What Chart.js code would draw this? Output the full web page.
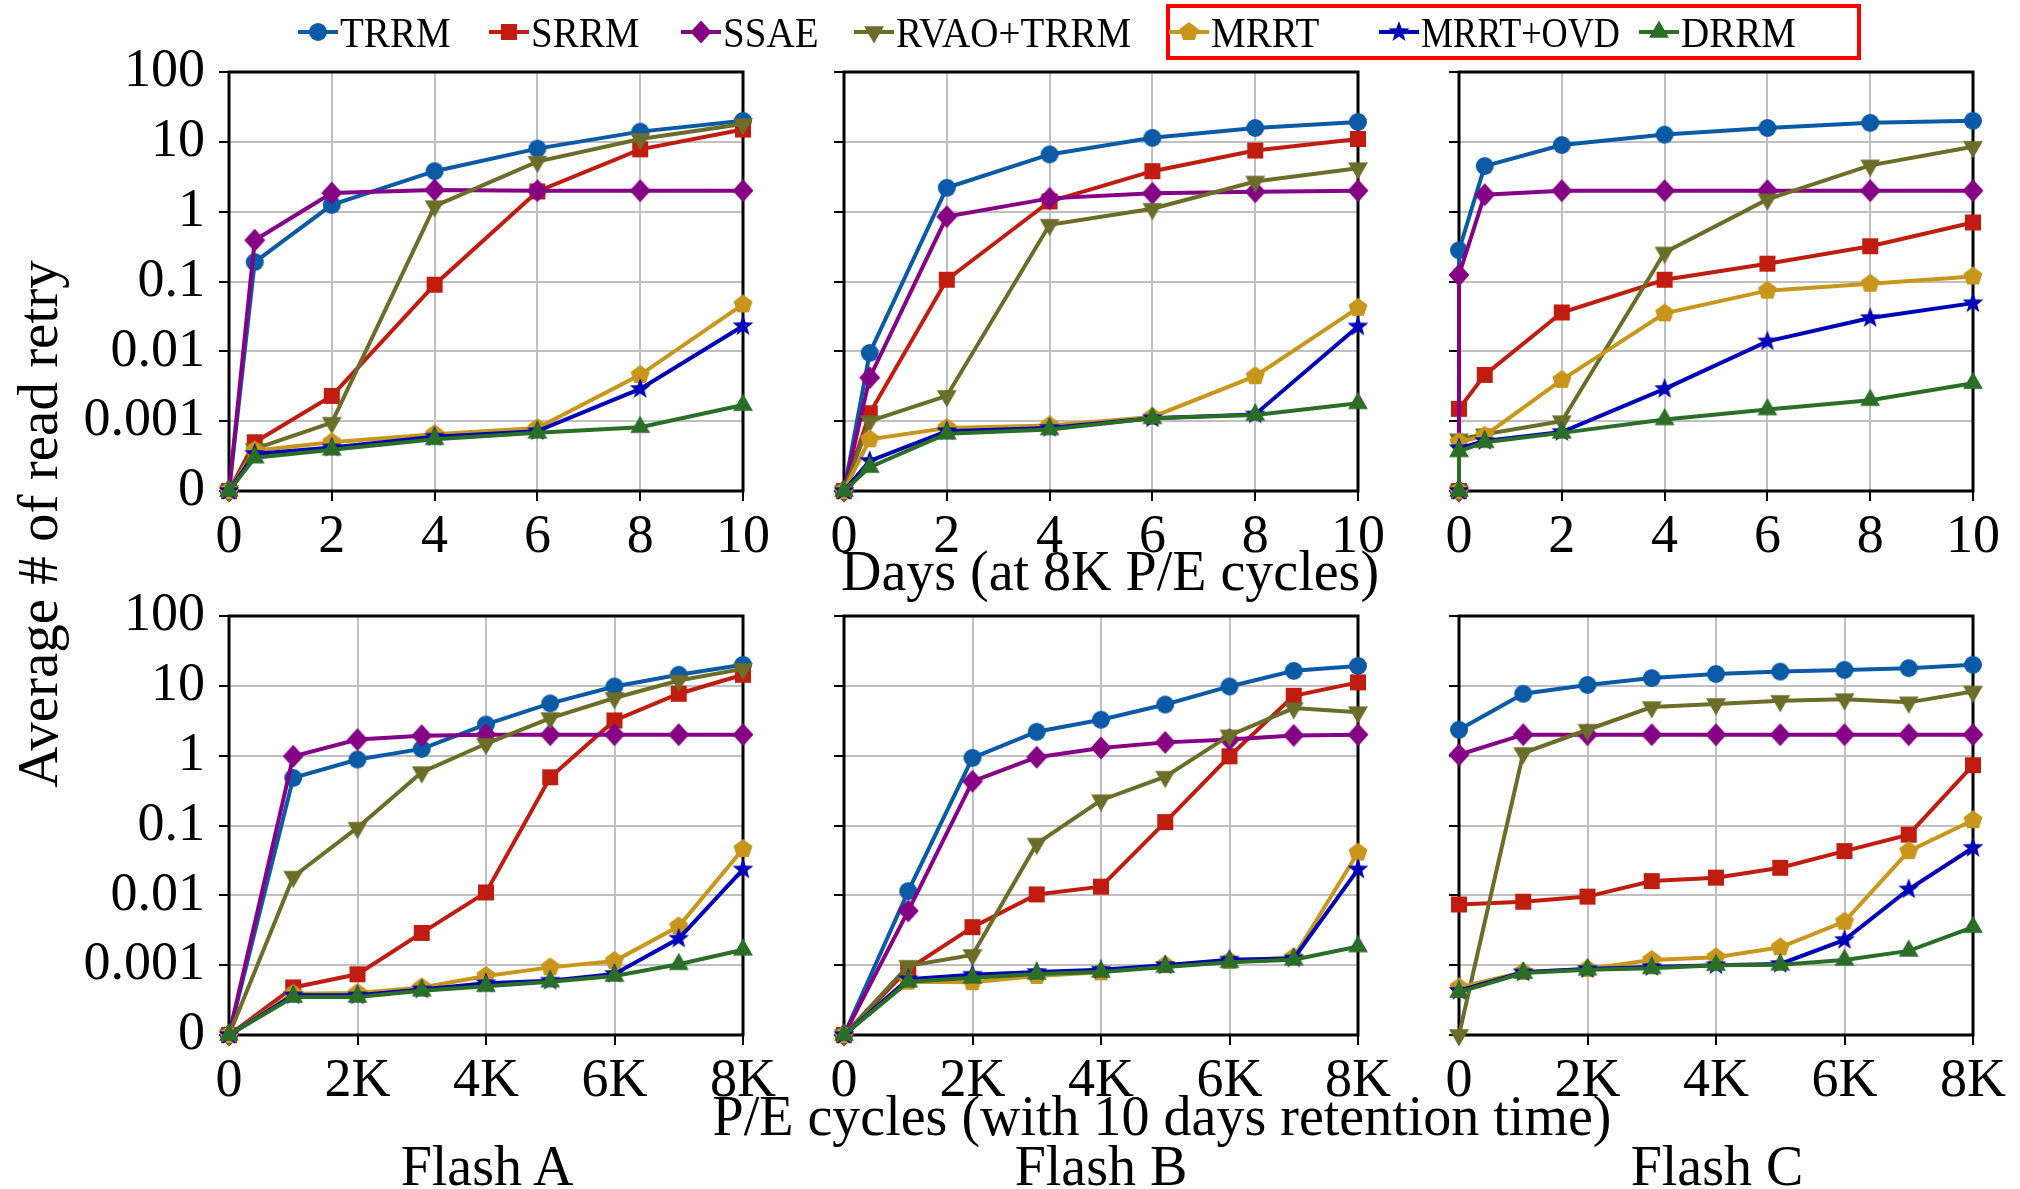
<!DOCTYPE html>
<html>
<head>
<meta charset="utf-8">
<script src="https://cdn.jsdelivr.net/npm/chart.js@4.4.1/dist/chart.umd.min.js"></script>
<style>
  body { margin: 0; background: #fff; }
  #wrap { position: relative; width: 2020px; height: 1189px; overflow: hidden; font-family: 'Liberation Serif', 'Times New Roman', serif; color: #000; }
  canvas.panel { position: absolute; }
  .lbl { position: absolute; white-space: nowrap; transform: translate(-50%, -50%); font-size: 56px; line-height: 1; }
  .leg { position: absolute; white-space: nowrap; font-size: 42px; line-height: 1; transform-origin: 0 50%; }
  .legicon { position: absolute; transform: translate(-50%, -50%); }
  #redbox { position: absolute; left: 1166px; top: 4px; width: 687px; height: 48px; border: 4px solid #ff0000; }
</style>
</head>
<body>
<div id="wrap">
  <div id="redbox"></div>
  <div class="lbl" style="left:1110px;top:571px;">Days (at 8K P/E cycles)</div>
  <div class="lbl" style="left:1162px;top:1116px;">P/E cycles (with 10 days retention time)</div>
  <div class="lbl" style="left:487px;top:1166px;">Flash A</div>
  <div class="lbl" style="left:1101px;top:1166px;">Flash B</div>
  <div class="lbl" style="left:1717px;top:1166px;">Flash C</div>
  <div class="lbl" style="left:37px;top:524px;font-size:57px;transform:translate(-50%,-50%) rotate(-90deg);">Average # of read retry</div>
</div>
<script>
// series, in legend order
const seriesNames = ['TRRM', 'SRRM', 'SSAE', 'RVAO+TRRM', 'MRRT', 'MRRT+OVD', 'DRRM'];
const seriesColors = ['#0a5aa6', '#c01c10', '#850085', '#6b6d28', '#c9961c', '#0000b8', '#2a6e28'];
const seriesShapes = ['circle', 'square', 'diamond', 'triDown', 'pentagon', 'star', 'triUp'];

// x positions
const daysAB = [0, 0.5, 2, 4, 6, 8, 10];
const daysC = [0, 0, 0.5, 2, 4, 6, 8, 10];
const peK = [0, 1, 2, 3, 4, 5, 6, 7, 8];
const dayTicks = [0, 2, 4, 6, 8, 10];
const peTicks = [0, 2, 4, 6, 8];
const yTicks = [0.0001, 0.001, 0.01, 0.1, 1, 10, 100]; // 0.0001 stands for "0"

// Flash A, days
const daysA_TRRM = [0, 0.19, 1.25, 3.8, 8.0, 14, 20];
const daysA_SRRM = [0, 0.0005, 0.0023, 0.09, 1.95, 7.8, 15];
const daysA_SSAE = [0, 0.39, 1.85, 2.05, 2, 2, 2];
const daysA_RVAO = [0, 0.0004, 0.00095, 1.2, 5.2, 11, 18];
const daysA_MRRT = [0, 0.00038, 0.0005, 0.00065, 0.0008, 0.0046, 0.047];
const daysA_OVD = [0, 0.00034, 0.00042, 0.0006, 0.00072, 0.0029, 0.023];
const daysA_DRRM = [0, 0.0003, 0.00039, 0.00055, 0.00068, 0.00082, 0.0017];

// Flash B, days
const daysB_TRRM = [0, 0.0095, 2.2, 6.6, 11.4, 15.8, 19.3];
const daysB_SRRM = [0, 0.0013, 0.106, 1.4, 3.8, 7.5, 11];
const daysB_SSAE = [0, 0.0042, 0.85, 1.55, 1.83, 1.93, 2.0];
const daysB_RVAO = [0, 0.001, 0.0023, 0.65, 1.1, 2.7, 4.2];
const daysB_MRRT = [0, 0.00055, 0.0008, 0.00087, 0.00115, 0.0044, 0.042];
const daysB_OVD = [0, 0.00027, 0.00072, 0.0008, 0.0011, 0.00125, 0.0227];
const daysB_DRRM = [0, 0.00022, 0.00066, 0.00076, 0.0011, 0.00123, 0.0018];

// Flash C, days
const daysC_TRRM = [0, 0.28, 4.5, 9.0, 12.7, 15.8, 18.7, 20];
const daysC_SRRM = [0, 0.0015, 0.0046, 0.036, 0.106, 0.18, 0.32, 0.7];
const daysC_SSAE = [0, 0.124, 1.75, 2, 2, 2, 2, 2];
const daysC_RVAO = [0, 0.00055, 0.00065, 0.001, 0.26, 1.5, 4.6, 8.5];
const daysC_MRRT = [0, 0.0005, 0.00062, 0.0039, 0.035, 0.074, 0.093, 0.118];
const daysC_OVD = [0, 0.00041, 0.00052, 0.0007, 0.0029, 0.0139, 0.03, 0.049];
const daysC_DRRM = [0, 0.00037, 0.0005, 0.00068, 0.00106, 0.00147, 0.002, 0.0035];

// Flash A, P/E cycles
const peA_TRRM = [0, 0.48, 0.88, 1.25, 2.8, 5.6, 9.8, 14.4, 20];
const peA_SRRM = [0, 0.00048, 0.00074, 0.0029, 0.011, 0.49, 3.2, 7.7, 14.4];
const peA_SSAE = [0, 0.98, 1.7, 1.93, 2, 2, 2, 2, 2];
const peA_RVAO = [0, 0.0185, 0.093, 0.58, 1.48, 3.45, 6.7, 11.9, 17.5];
const peA_MRRT = [0, 0.00039, 0.0004, 0.00048, 0.0007, 0.00093, 0.00115, 0.0036, 0.046];
const peA_OVD = [0, 0.00037, 0.00037, 0.00045, 0.00055, 0.0006, 0.00075, 0.0024, 0.0235];
const peA_DRRM = [0, 0.00035, 0.00035, 0.00043, 0.0005, 0.00058, 0.0007, 0.00103, 0.00166];

// Flash B, P/E cycles
const peB_TRRM = [0, 0.0115, 0.93, 2.2, 3.27, 5.4, 9.8, 16.4, 19.3];
const peB_SRRM = [0, 0.00088, 0.0035, 0.0103, 0.0133, 0.112, 0.98, 7.2, 11.2];
const peB_SSAE = [0, 0.006, 0.43, 0.95, 1.29, 1.55, 1.7, 1.95, 2.0];
const peB_RVAO = [0, 0.00098, 0.0014, 0.055, 0.23, 0.5, 1.95, 4.8, 4.2];
const peB_MRRT = [0, 0.00058, 0.00057, 0.0007, 0.00079, 0.001, 0.00115, 0.0013, 0.041];
const peB_OVD = [0, 0.00063, 0.00073, 0.0008, 0.00086, 0.001, 0.0012, 0.00125, 0.0235];
const peB_DRRM = [0, 0.00058, 0.00066, 0.00075, 0.0008, 0.00094, 0.0011, 0.0012, 0.00185];

// Flash C, P/E cycles
const peC_TRRM = [2.35, 7.7, 10.3, 12.9, 14.8, 16, 16.9, 17.9, 20];
const peC_SRRM = [0.0074, 0.0081, 0.0096, 0.016, 0.0179, 0.0248, 0.043, 0.074, 0.73];
const peC_SSAE = [1.03, 2, 2, 2, 2, 2, 2, 2, 2];
const peC_RVAO = [0, 1.09, 2.35, 4.96, 5.5, 6.1, 6.45, 5.8, 8.3];
const peC_MRRT = [0.00048, 0.0008, 0.00088, 0.00119, 0.0013, 0.0018, 0.0042, 0.043, 0.119];
const peC_OVD = [0.00043, 0.00079, 0.00088, 0.00094, 0.001, 0.00104, 0.0023, 0.0122, 0.048];
const peC_DRRM = [0.00041, 0.00077, 0.00086, 0.0009, 0.001, 0.00101, 0.00119, 0.0016, 0.0035];

const FLOOR = 0.0001; // where "0" sits on the log axis
const FONT = 'Liberation Serif';

// panel geometry (plot area)
const colLeft = [229, 844, 1459];
const rowTop = [72, 616];
const plotW = 514, plotH = 419;
const YAXIS_W = 200, XAXIS_H = 72, PAD_TOP = 60, PAD_RIGHT = 50;

const panels = [
  { row: 0, col: 0, xs: daysAB, ticks: dayTicks, max: 10, pe: false, ys: [daysA_TRRM, daysA_SRRM, daysA_SSAE, daysA_RVAO, daysA_MRRT, daysA_OVD, daysA_DRRM] },
  { row: 0, col: 1, xs: daysAB, ticks: dayTicks, max: 10, pe: false, ys: [daysB_TRRM, daysB_SRRM, daysB_SSAE, daysB_RVAO, daysB_MRRT, daysB_OVD, daysB_DRRM] },
  { row: 0, col: 2, xs: daysC, ticks: dayTicks, max: 10, pe: false, ys: [daysC_TRRM, daysC_SRRM, daysC_SSAE, daysC_RVAO, daysC_MRRT, daysC_OVD, daysC_DRRM] },
  { row: 1, col: 0, xs: peK, ticks: peTicks, max: 8, pe: true, ys: [peA_TRRM, peA_SRRM, peA_SSAE, peA_RVAO, peA_MRRT, peA_OVD, peA_DRRM] },
  { row: 1, col: 1, xs: peK, ticks: peTicks, max: 8, pe: true, ys: [peB_TRRM, peB_SRRM, peB_SSAE, peB_RVAO, peB_MRRT, peB_OVD, peB_DRRM] },
  { row: 1, col: 2, xs: peK, ticks: peTicks, max: 8, pe: true, ys: [peC_TRRM, peC_SRRM, peC_SSAE, peC_RVAO, peC_MRRT, peC_OVD, peC_DRRM] },
];

// marker images
function polyPath(g, n, r, start) {
  for (let i = 0; i < n; i++) {
    const a = start + i * 2 * Math.PI / n;
    if (i === 0) g.moveTo(r * Math.cos(a), r * Math.sin(a)); else g.lineTo(r * Math.cos(a), r * Math.sin(a));
  }
}
function makeMarker(shape, color) {
  const c = document.createElement('canvas');
  c.width = 28; c.height = 28;
  const g = c.getContext('2d');
  g.fillStyle = color;
  g.translate(14, 14);
  g.beginPath();
  if (shape === 'circle') g.arc(0, 0, 9, 0, Math.PI * 2);
  else if (shape === 'square') g.rect(-8, -8, 16, 16);
  else if (shape === 'diamond') { g.moveTo(0, -11.5); g.lineTo(10.5, 0); g.lineTo(0, 11.5); g.lineTo(-10.5, 0); }
  else if (shape === 'triDown') polyPath(g, 3, 11.5, Math.PI / 2);
  else if (shape === 'triUp') polyPath(g, 3, 11.5, -Math.PI / 2);
  else if (shape === 'pentagon') polyPath(g, 5, 10, -Math.PI / 2);
  else if (shape === 'star') {
    for (let i = 0; i < 10; i++) {
      const r = i % 2 ? 4.5 : 11;
      const a = -Math.PI / 2 + i * Math.PI / 5;
      if (i === 0) g.moveTo(r * Math.cos(a), r * Math.sin(a)); else g.lineTo(r * Math.cos(a), r * Math.sin(a));
    }
  }
  g.closePath();
  g.fill();
  return c;
}
const markers = seriesShapes.map((s, i) => makeMarker(s, seriesColors[i]));

// box around the plot area, drawn under the lines
const framePlugin = {
  id: 'frame',
  beforeDatasetsDraw(chart) {
    const a = chart.chartArea, ctx = chart.ctx;
    ctx.save();
    ctx.strokeStyle = '#000';
    ctx.lineWidth = 3;
    ctx.strokeRect(a.left, a.top, a.right - a.left, a.bottom - a.top);
    ctx.restore();
  }
};

const wrap = document.getElementById('wrap');

panels.forEach(p => {
  const cv = document.createElement('canvas');
  cv.className = 'panel';
  const w = YAXIS_W + plotW + PAD_RIGHT, h = PAD_TOP + plotH + XAXIS_H;
  cv.width = w; cv.height = h;
  cv.style.left = (colLeft[p.col] - YAXIS_W) + 'px';
  cv.style.top = (rowTop[p.row] - PAD_TOP) + 'px';
  cv.style.width = w + 'px'; cv.style.height = h + 'px';
  wrap.appendChild(cv);

  const datasets = seriesNames.map((name, i) => ({
    label: name,
    data: p.xs.map((x, k) => ({ x: x, y: p.ys[i][k] > 0 ? p.ys[i][k] : FLOOR })),
    borderColor: seriesColors[i],
    backgroundColor: seriesColors[i],
    borderWidth: 4,
    pointStyle: markers[i],
    pointRadius: 9,
    tension: 0,
    clip: false,
    order: seriesNames.length - i
  }));

  new Chart(cv.getContext('2d'), {
    type: 'line',
    data: { datasets: datasets },
    plugins: [framePlugin],
    options: {
      responsive: false,
      animation: false,
      devicePixelRatio: 1,
      layout: { padding: { top: PAD_TOP, right: PAD_RIGHT, left: 0, bottom: 0 } },
      plugins: { legend: { display: false }, tooltip: { enabled: false } },
      scales: {
        x: {
          type: 'linear', min: 0, max: p.max,
          afterBuildTicks: s => { s.ticks = p.ticks.map(v => ({ value: v })); },
          afterFit: s => { s.height = XAXIS_H; },
          border: { display: false },
          grid: { color: '#c0c0c0', lineWidth: 2, tickColor: '#000', tickLength: 10, tickWidth: 2 },
          ticks: {
            font: { family: FONT, size: 54 }, color: '#000', padding: 4, maxRotation: 0, autoSkip: false,
            callback: v => p.pe ? (v === 0 ? '0' : v + 'K') : String(v)
          }
        },
        y: {
          type: 'logarithmic', min: FLOOR, max: 100,
          afterBuildTicks: s => { s.ticks = yTicks.map(v => ({ value: v })); },
          afterFit: s => { s.width = YAXIS_W; },
          border: { display: false },
          grid: { color: '#c0c0c0', lineWidth: 2, tickColor: '#000', tickLength: 10, tickWidth: 2 },
          ticks: {
            font: { family: FONT, size: 54 }, color: '#000', padding: 14, autoSkip: false,
            callback: v => p.col === 0 ? (v === FLOOR ? '0' : String(v)) : ''
          }
        }
      }
    }
  });
});

// legend
const legTextLeft = [340, 531, 723, 896, 1211, 1421, 1681];
const legSquash = [0.93, 0.93, 0.93, 0.93, 0.93, 0.86, 0.93];
seriesNames.forEach((name, i) => {
  const ic = document.createElement('canvas');
  ic.width = 40; ic.height = 28;
  ic.className = 'legicon';
  const g = ic.getContext('2d');
  g.strokeStyle = seriesColors[i];
  g.lineWidth = 4;
  g.beginPath(); g.moveTo(0, 14); g.lineTo(40, 14); g.stroke();
  g.drawImage(markers[i], 6, 0);
  ic.style.left = (legTextLeft[i] - 22) + 'px';
  ic.style.top = '32px';
  wrap.appendChild(ic);
  const t = document.createElement('div');
  t.className = 'leg';
  t.textContent = name;
  t.style.left = legTextLeft[i] + 'px';
  t.style.top = '33px';
  t.style.transform = 'translateY(-50%) scaleX(' + legSquash[i] + ')';
  wrap.appendChild(t);
});
</script>
</body>
</html>
